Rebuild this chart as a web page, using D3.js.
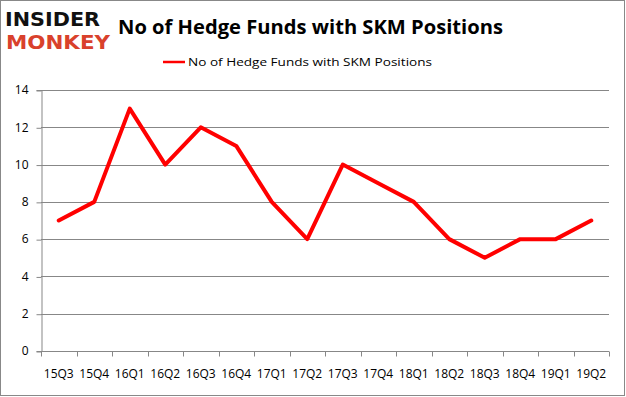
<!DOCTYPE html>
<html>
<head>
<meta charset="utf-8">
<script src="https://cdn.jsdelivr.net/npm/d3@7"></script>
<style>
  body { margin: 0; background: #fff; }
  svg { display: block; }
</style>
</head>
<body>
<div id="chart"></div>
<script>
// quarters on the x axis
var quarters = ["15Q3", "15Q4", "16Q1", "16Q2", "16Q3", "16Q4", "17Q1", "17Q2",
                "17Q3", "17Q4", "18Q1", "18Q2", "18Q3", "18Q4", "19Q1", "19Q2"];
// number of hedge funds holding SKM
var funds = [7, 8, 13, 10, 12, 11, 8, 6, 10, 9, 8, 6, 5, 6, 6, 7];
var yTicks = [0, 2, 4, 6, 8, 10, 12, 14];
var seriesName = "No of Hedge Funds with SKM Positions";
var chartTitle = "No of Hedge Funds with SKM Positions";

var W = 626, H = 397;
var margin = { top: 90, right: 17, bottom: 46, left: 41 },
    width = W - margin.left - margin.right,
    height = H - margin.top - margin.bottom;

var root = d3.select("#chart").append("svg")
    .attr("width", W)
    .attr("height", H);

// outer frame
root.append("rect")
    .attr("x", 0.5).attr("y", 0.5)
    .attr("width", W - 2).attr("height", H - 2)
    .attr("fill", "#fff")
    .attr("stroke", "#888");

// logo
root.append("text")
    .attr("x", 5).attr("y", 26)
    .style("font-family", "DejaVu Sans")
    .style("font-weight", "bold")
    .style("font-size", "19px")
    .attr("textLength", 95)
    .attr("lengthAdjust", "spacingAndGlyphs")
    .attr("fill", "#111")
    .text("INSIDER");
root.append("text")
    .attr("x", 6).attr("y", 49)
    .style("font-family", "DejaVu Sans")
    .style("font-weight", "bold")
    .style("font-size", "19px")
    .attr("textLength", 104)
    .attr("lengthAdjust", "spacingAndGlyphs")
    .attr("fill", "#d9412c")
    .text("MONKEY");

// title
root.append("text")
    .attr("x", 118).attr("y", 34)
    .style("font-family", "Open Sans")
    .style("font-weight", "bold")
    .style("font-size", "19px")
    .attr("textLength", 385)
    .attr("lengthAdjust", "spacingAndGlyphs")
    .attr("fill", "#000")
    .text(chartTitle);

// legend
root.append("line")
    .attr("x1", 163).attr("x2", 185)
    .attr("y1", 62).attr("y2", 62)
    .attr("stroke", "red")
    .attr("stroke-width", 2.5);
root.append("text")
    .attr("x", 188).attr("y", 66)
    .style("font-family", "Open Sans")
    .style("font-size", "11px")
    .attr("textLength", 244)
    .attr("lengthAdjust", "spacingAndGlyphs")
    .text(seriesName);

var svg = root.append("g")
    .attr("transform", "translate(" + margin.left + "," + margin.top + ")");

var x = d3.scaleBand()
    .domain(quarters)
    .range([0, width])
    .padding(0);

var y = d3.scaleLinear()
    .domain([0, 14])
    .range([height, 0]);

// grid lines
svg.append("g")
    .selectAll("line")
    .data(yTicks.slice(1))
    .enter().append("line")
    .attr("x1", 0).attr("x2", width)
    .attr("y1", function(d) { return Math.round(y(d)) + 0.5; })
    .attr("y2", function(d) { return Math.round(y(d)) + 0.5; })
    .attr("stroke", "#878787")
    .attr("stroke-width", 1);

// y axis
var yAxis = svg.append("g")
    .attr("transform", "translate(0.5,0)")
    .call(d3.axisLeft(y).tickValues(yTicks).tickSize(5).tickPadding(8))
yAxis.selectAll("line").attr("stroke", "#878787").attr("transform", "translate(0,0.5)");
yAxis.select(".domain").attr("stroke", "#878787");
yAxis.selectAll("text")
    .style("font-family", "Open Sans")
    .style("font-size", "12px")
    .attr("fill", "#000");

// x axis with ticks on the band edges
var xAxis = svg.append("g")
    .attr("transform", "translate(0," + (Math.round(height) + 0.5) + ")");
xAxis.append("line")
    .attr("x1", 0).attr("x2", width)
    .attr("stroke", "#878787");
xAxis.selectAll(".tk")
    .data(quarters.concat(["end"]))
    .enter().append("line")
    .attr("class", "tk")
    .attr("x1", function(d, i) { return Math.round(i * x.bandwidth()) + 0.5; })
    .attr("x2", function(d, i) { return Math.round(i * x.bandwidth()) + 0.5; })
    .attr("y1", 0).attr("y2", 5)
    .attr("stroke", "#878787");
xAxis.selectAll(".lbl")
    .data(quarters)
    .enter().append("text")
    .attr("class", "lbl")
    .attr("x", function(d) { return x(d) + x.bandwidth() / 2; })
    .attr("y", 26)
    .attr("text-anchor", "middle")
    .style("font-family", "Open Sans")
    .style("font-size", "12px")
    .text(function(d) { return d; });

// the line
svg.append("path")
    .datum(funds)
    .attr("fill", "none")
    .attr("stroke", "#ff0000")
    .attr("stroke-width", 4)
    .attr("stroke-linejoin", "round")
    .attr("stroke-linecap", "round")
    .attr("d", d3.line()
        .x(function(d, i) { return x(quarters[i]) + x.bandwidth() / 2; })
        .y(function(d) { return y(d); }));
</script>
</body>
</html>
